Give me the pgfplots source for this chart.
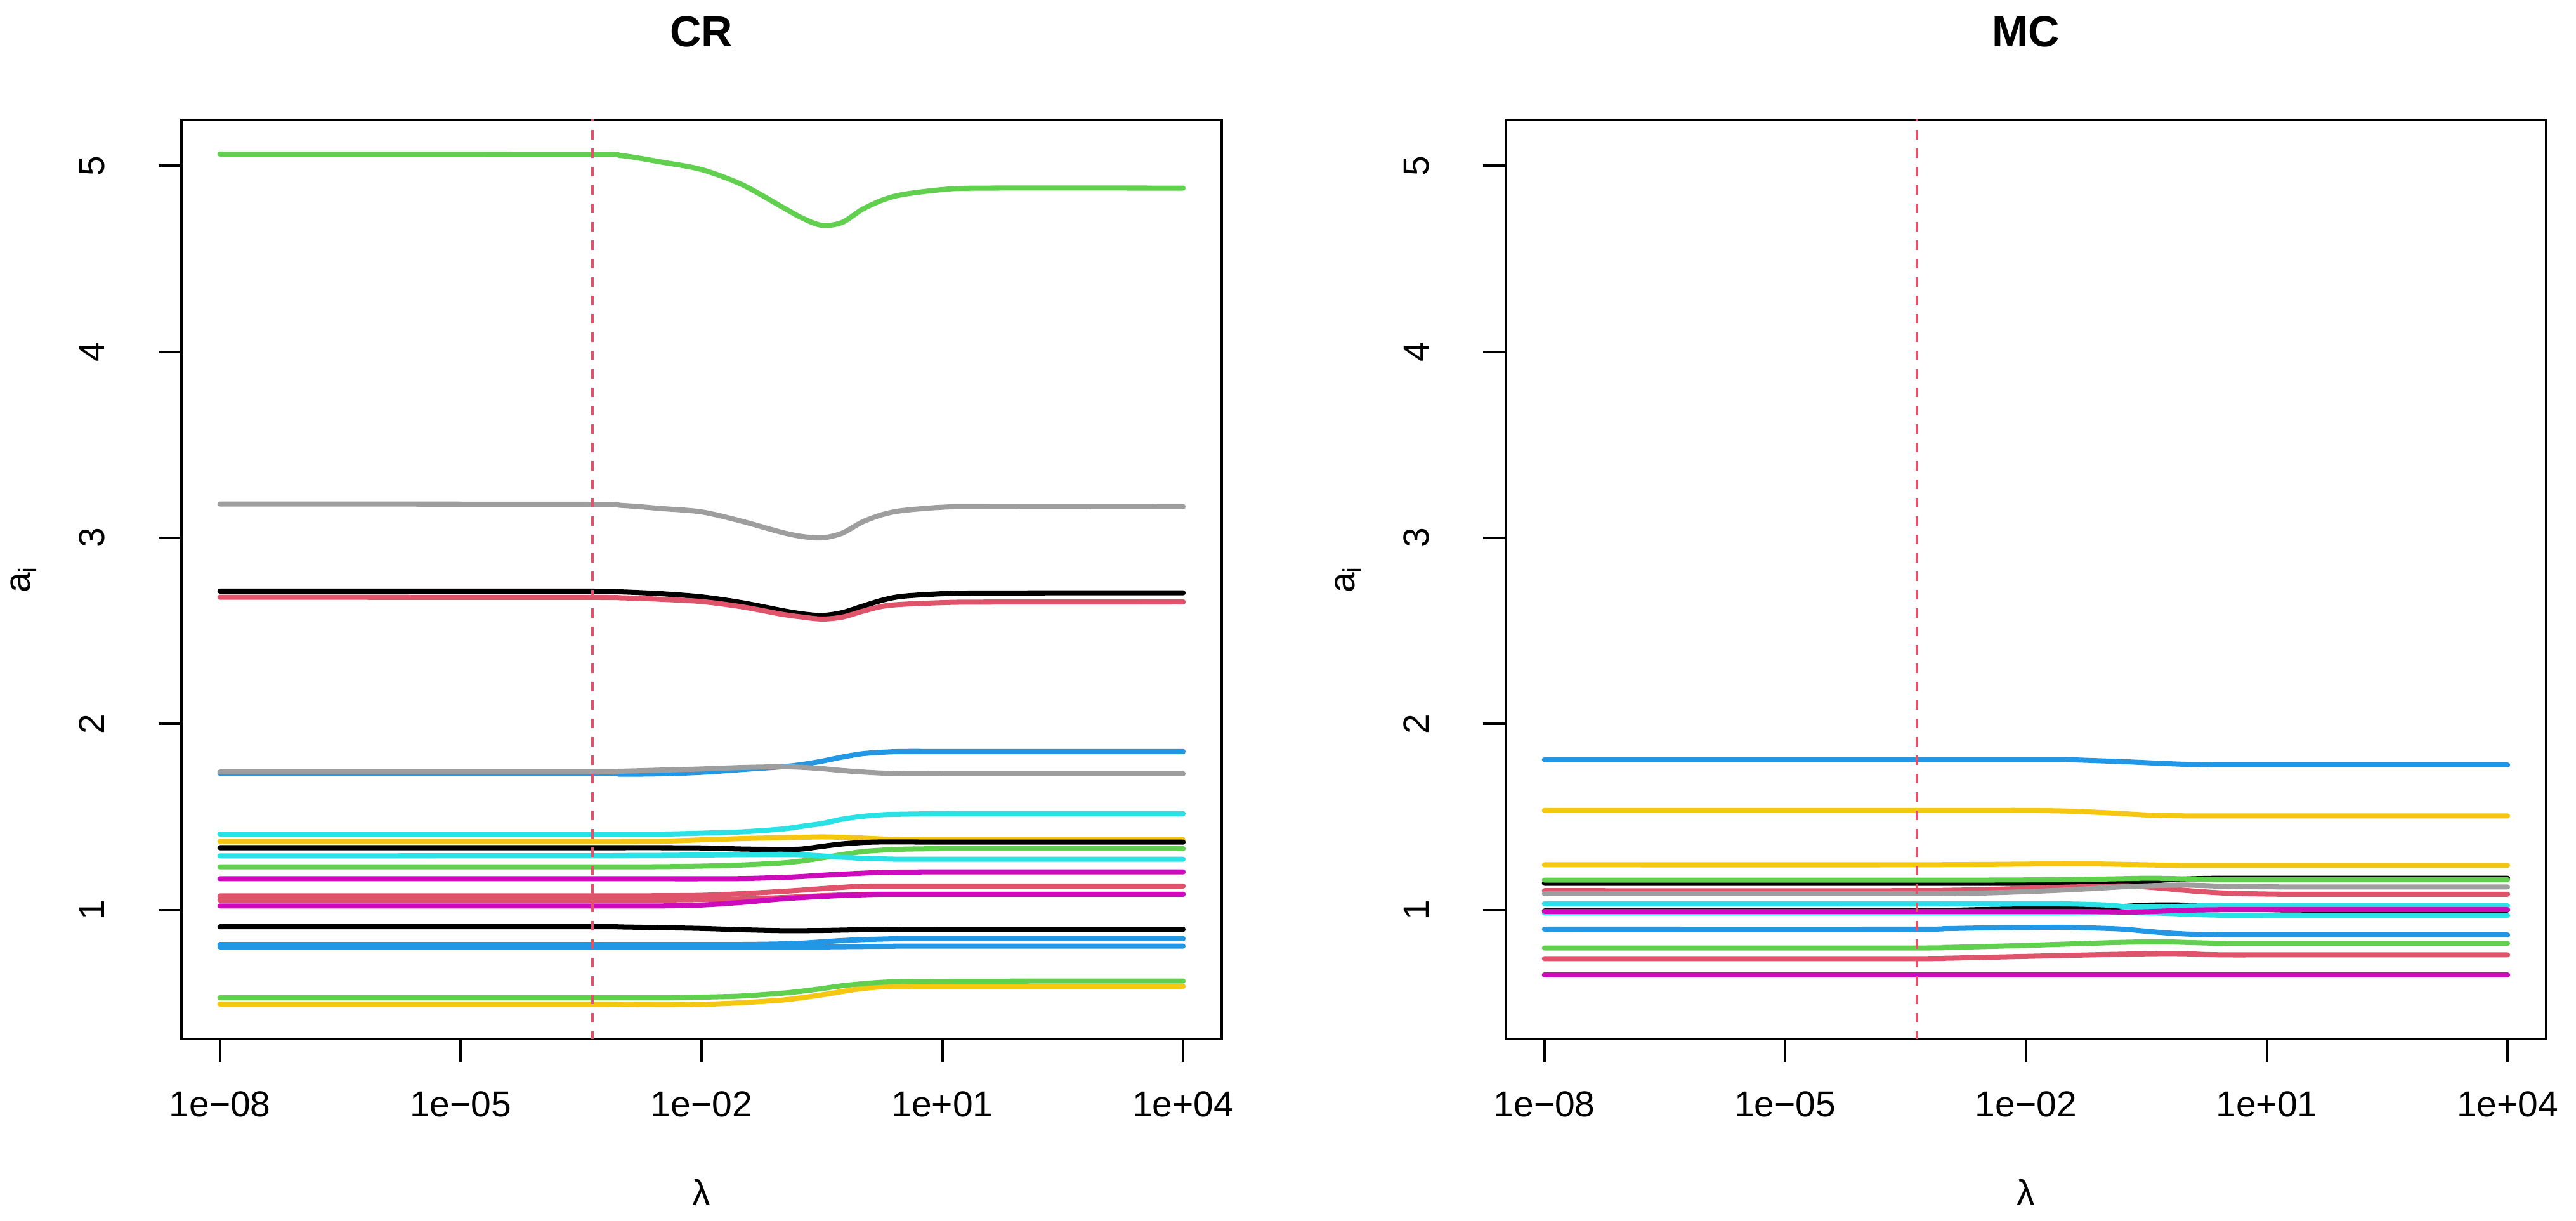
\documentclass[border=0pt]{standalone}
\usepackage{fontspec}
\setmainfont{Liberation Sans}
\usepackage{pgfplots}
\usepackage{pgfplotstable}
\pgfplotsset{compat=1.18}

% R 4.x default palette
\definecolor{rblack}{HTML}{000000}
\definecolor{rred}{HTML}{DF536B}
\definecolor{rgreen}{HTML}{61D04F}
\definecolor{rblue}{HTML}{2297E6}
\definecolor{rcyan}{HTML}{28E2E5}
\definecolor{rmagenta}{HTML}{CD0BBC}
\definecolor{ryellow}{HTML}{F5C710}
\definecolor{rgray}{HTML}{9E9E9E}

% x = log10(lambda); one column per coefficient path
\pgfplotstableread{
x k1 r1 g1 b1 c1 m1 y1 e1 k2 r2 g2 b2 c2 m2 y2 e2 k3 r3 g3 b3
-8 2.714 2.681 5.063 1.735 1.408 1.168 1.369 3.182 1.335 1.053 1.232 0.815 1.291 1.022 0.495 1.742 0.910 1.076 0.529 0.802
-3.5 2.714 2.680 5.062 1.735 1.408 1.168 1.369 3.181 1.335 1.053 1.232 0.815 1.292 1.022 0.495 1.742 0.910 1.076 0.529 0.802
-3 2.710 2.678 5.055 1.730 1.408 1.168 1.369 3.175 1.335 1.053 1.232 0.815 1.293 1.022 0.493 1.746 0.909 1.076 0.529 0.802
-2.5 2.700 2.670 5.020 1.732 1.408 1.168 1.370 3.158 1.335 1.054 1.233 0.815 1.294 1.022 0.491 1.752 0.905 1.077 0.529 0.802
-2 2.683 2.658 4.980 1.740 1.413 1.168 1.377 3.140 1.334 1.056 1.236 0.815 1.296 1.027 0.493 1.758 0.901 1.079 0.532 0.802
-1.5 2.652 2.630 4.900 1.755 1.420 1.169 1.384 3.090 1.328 1.060 1.242 0.815 1.298 1.041 0.502 1.766 0.894 1.088 0.538 0.802
-1 2.610 2.590 4.780 1.770 1.435 1.175 1.389 3.030 1.326 1.067 1.253 0.818 1.300 1.060 0.516 1.770 0.889 1.100 0.553 0.802
-0.75 2.592 2.575 4.720 1.782 1.450 1.180 1.391 3.008 1.328 1.072 1.264 0.822 1.297 1.067 0.529 1.767 0.889 1.107 0.564 0.802
-0.5 2.583 2.564 4.680 1.800 1.465 1.187 1.393 3.000 1.342 1.077 1.280 0.829 1.291 1.073 0.544 1.760 0.890 1.115 0.578 0.802
-0.25 2.598 2.574 4.695 1.822 1.488 1.193 1.391 3.025 1.355 1.081 1.298 0.836 1.284 1.078 0.562 1.750 0.892 1.122 0.593 0.803
0 2.632 2.605 4.765 1.840 1.503 1.198 1.387 3.085 1.363 1.084 1.314 0.841 1.278 1.082 0.578 1.742 0.894 1.128 0.604 0.804
0.25 2.665 2.632 4.815 1.848 1.512 1.202 1.382 3.125 1.366 1.085 1.322 0.844 1.275 1.085 0.587 1.736 0.895 1.129 0.612 0.805
0.5 2.686 2.643 4.845 1.852 1.515 1.204 1.379 3.147 1.366 1.085 1.327 0.846 1.273 1.085 0.589 1.733 0.896 1.129 0.615 0.806
1 2.700 2.652 4.872 1.852 1.518 1.205 1.378 3.165 1.365 1.085 1.330 0.846 1.273 1.085 0.590 1.733 0.896 1.129 0.617 0.806
1.5 2.704 2.655 4.880 1.852 1.518 1.205 1.378 3.168 1.365 1.085 1.330 0.846 1.273 1.085 0.590 1.733 0.896 1.129 0.618 0.806
4 2.705 2.656 4.880 1.852 1.518 1.205 1.378 3.168 1.365 1.085 1.330 0.846 1.273 1.085 0.590 1.733 0.896 1.129 0.619 0.806
}\crdata

\pgfplotstableread{
x k1 r1 g1 b1 c1 m1 y1 e1 k2 r2 g2 b2 c2 m2 y2
-8 1.144 1.104 1.161 1.808 1.034 0.652 1.535 1.088 0.995 0.739 0.796 0.897 0.984 0.993 1.243
-3.5 1.144 1.104 1.161 1.808 1.034 0.652 1.535 1.088 0.996 0.739 0.796 0.897 0.984 0.993 1.243
-3 1.144 1.106 1.161 1.808 1.034 0.652 1.535 1.089 0.998 0.741 0.799 0.900 0.984 0.993 1.244
-2.5 1.144 1.110 1.161 1.808 1.034 0.652 1.535 1.092 1.003 0.746 0.804 0.904 0.984 0.993 1.245
-2 1.144 1.117 1.162 1.808 1.034 0.652 1.535 1.099 1.006 0.751 0.810 0.906 0.984 0.993 1.247
-1.5 1.145 1.123 1.164 1.808 1.033 0.652 1.532 1.108 1.008 0.756 0.817 0.907 0.985 0.993 1.248
-1 1.148 1.128 1.167 1.801 1.027 0.652 1.523 1.120 1.012 0.761 0.824 0.901 0.988 0.991 1.247
-0.75 1.150 1.130 1.169 1.797 1.018 0.652 1.517 1.126 1.020 0.763 0.827 0.896 0.989 0.989 1.245
-0.5 1.155 1.124 1.171 1.792 1.016 0.652 1.511 1.130 1.026 0.765 0.829 0.886 0.986 0.991 1.243
-0.25 1.162 1.115 1.170 1.787 1.018 0.652 1.508 1.133 1.028 0.766 0.829 0.877 0.982 0.995 1.241
0 1.167 1.105 1.167 1.783 1.021 0.652 1.506 1.134 1.026 0.765 0.826 0.871 0.978 0.999 1.240
0.25 1.170 1.097 1.165 1.781 1.023 0.652 1.506 1.131 1.018 0.761 0.823 0.868 0.974 1.001 1.240
0.5 1.171 1.091 1.163 1.780 1.024 0.652 1.506 1.127 1.010 0.759 0.821 0.866 0.972 1.002 1.240
1 1.171 1.086 1.163 1.780 1.023 0.652 1.506 1.125 1.003 0.759 0.821 0.866 0.971 1.002 1.240
1.5 1.171 1.085 1.163 1.780 1.023 0.652 1.506 1.124 1.000 0.759 0.821 0.866 0.971 1.002 1.240
4 1.171 1.085 1.163 1.780 1.023 0.652 1.506 1.124 1.000 0.759 0.821 0.866 0.971 1.002 1.240
}\mcdata

\pgfplotsset{
  panel/.style={
    scale only axis, width=316.6pt, height=279.7pt,
    xmin=-8.48, xmax=4.48, ymin=0.308, ymax=5.247,
    xtick={-8,-5,-2,1,4},
    xticklabels={1e−08,1e−05,1e−02,1e+01,1e+04},
    ytick={1,2,3,4,5},
    xtick pos=bottom, ytick pos=left,
    tick align=outside, major tick length=6.95pt,
    axis line style={line width=0.77pt},
    every tick/.style={black, line width=0.77pt},
    tick label style={font=\fontsize{11}{13}\selectfont},
    /pgf/number format/assume math mode=true,
    xticklabel style={anchor=base, yshift=-16.75pt},
    yticklabel style={xshift=-20.3pt, rotate=90, anchor=center},
    every axis title/.style={at={(axis description cs:0.5,1)}, anchor=base,
      yshift=22.2pt, font=\fontsize{13.2}{15}\selectfont\bfseries},
    xlabel={λ}, ylabel={a\textsubscript{i}},
    every axis x label/.style={at={(axis description cs:0.5,0)}, anchor=base,
      yshift=-50.7pt, font=\fontsize{11}{13}\selectfont},
    every axis y label/.style={at={(axis description cs:0,0.5)}, xshift=-48pt,
      rotate=90, anchor=center, font=\fontsize{11}{13}\selectfont},
  },
  curve/.style={line width=1.55pt, line cap=round, line join=round,
    smooth, tension=0.5, no markers},
  vline/.style={rred, line width=0.77pt, dash pattern=on 2.9pt off 2.7pt},
}
\newcommand{\curve}[3]{\addplot[curve,#1] table[x=x,y=#2]{#3};}

\begin{document}
\begin{tikzpicture}
\path[use as bounding box] (0,0) rectangle (784pt,371.45pt);

\begin{axis}[panel, at={(55.2pt,55.27pt)}, title={CR}]
\curve{rblack}{k1}{\crdata}
\curve{rred}{r1}{\crdata}
\curve{rgreen}{g1}{\crdata}
\curve{rblue}{b1}{\crdata}
\curve{rcyan}{c1}{\crdata}
\curve{rmagenta}{m1}{\crdata}
\curve{ryellow}{y1}{\crdata}
\curve{rgray}{e1}{\crdata}
\curve{rblack}{k2}{\crdata}
\curve{rred}{r2}{\crdata}
\curve{rgreen}{g2}{\crdata}
\curve{rblue}{b2}{\crdata}
\curve{rcyan}{c2}{\crdata}
\curve{rmagenta}{m2}{\crdata}
\curve{ryellow}{y2}{\crdata}
\curve{rgray}{e2}{\crdata}
\curve{rblack}{k3}{\crdata}
\curve{rred}{r3}{\crdata}
\curve{rgreen}{g3}{\crdata}
\curve{rblue}{b3}{\crdata}
\addplot[vline] coordinates {(-3.36,0) (-3.36,6)};
\end{axis}

\begin{axis}[panel, at={(458.3pt,55.27pt)}, title={MC}]
% the second black path sits mostly underneath its neighbours
\curve{rblack}{k2}{\mcdata}
\curve{rblack}{k1}{\mcdata}
\curve{rred}{r1}{\mcdata}
\curve{rgreen}{g1}{\mcdata}
\curve{rblue}{b1}{\mcdata}
\curve{rcyan}{c1}{\mcdata}
\curve{rmagenta}{m1}{\mcdata}
\curve{ryellow}{y1}{\mcdata}
\curve{rgray}{e1}{\mcdata}
\curve{rred}{r2}{\mcdata}
\curve{rgreen}{g2}{\mcdata}
\curve{rblue}{b2}{\mcdata}
\curve{rcyan}{c2}{\mcdata}
\curve{rmagenta}{m2}{\mcdata}
\curve{ryellow}{y2}{\mcdata}
\addplot[vline] coordinates {(-3.36,0) (-3.36,6)};
\end{axis}
\end{tikzpicture}
\end{document}
